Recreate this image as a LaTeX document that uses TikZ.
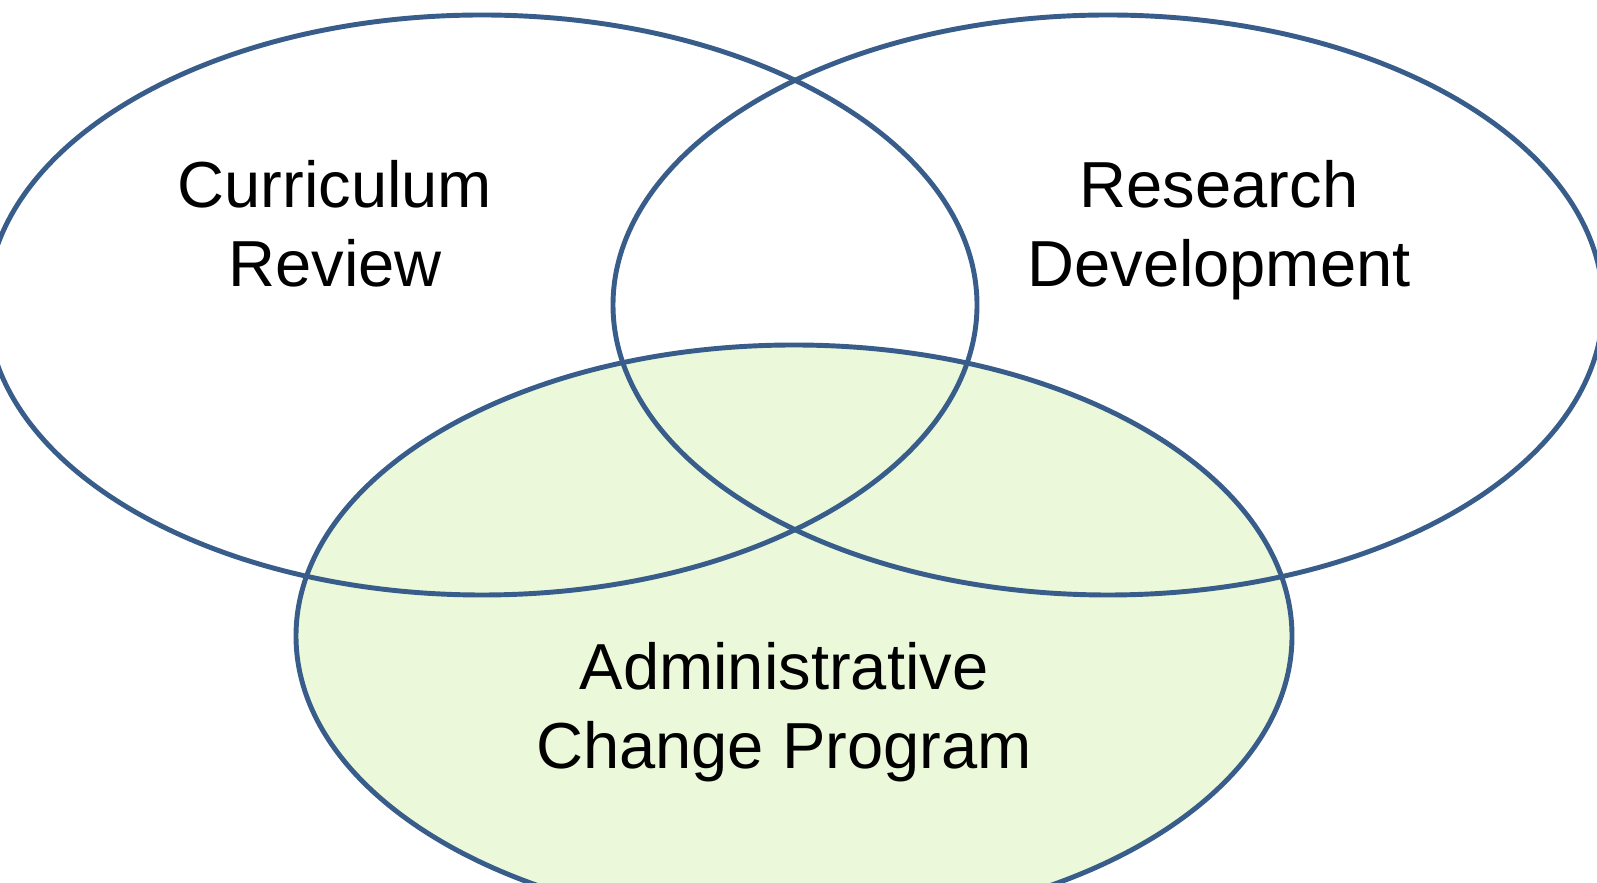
\documentclass[tikz,border=0pt]{standalone}
\usepackage{fontspec}
\setmainfont{Liberation Sans}
\definecolor{ringblue}{RGB}{56,93,138}
\definecolor{admgreen}{RGB}{235,249,218}
\tikzset{
  ring/.style={draw=ringblue, line width=1.4pt},
  setlabel/.style={align=center, anchor=base, font=\fontsize{18.5}{22.7}\selectfont}
}

\begin{document}
\begin{tikzpicture}[x=0.01cm,y=-0.01cm]
\useasboundingbox (0,0) rectangle (1597,883);
\clip (0,0) rectangle (1597,883);
\fill[admgreen] (794,636) ellipse [x radius=498, y radius=291];
\draw[ring] (482,305) ellipse [x radius=495, y radius=290];
\draw[ring] (1108,305) ellipse [x radius=495, y radius=290];
\draw[ring] (794,636) ellipse [x radius=498, y radius=291];
\node[setlabel] (curriculum) at (335,287) {Curriculum\\Review};
\node[setlabel] (research)   at (1219,287) {Research\\Development};
\node[setlabel] (admin)      at (784,769) {Administrative\\Change Program};
\end{tikzpicture}
\end{document}
